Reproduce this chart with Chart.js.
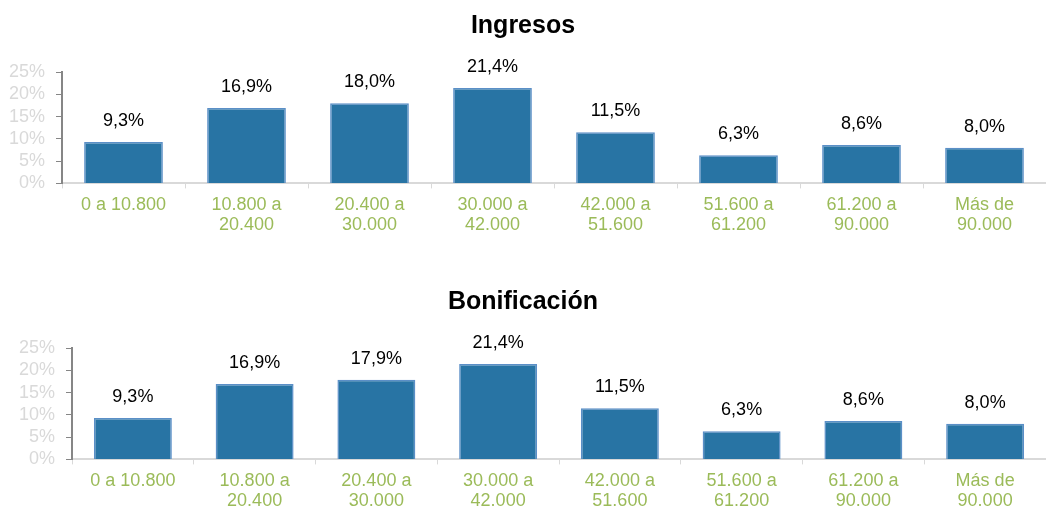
<!DOCTYPE html>
<html>
<head>
<meta charset="utf-8">
<script src="https://cdn.jsdelivr.net/npm/chart.js@4"></script>
<style>
  body { margin: 0; background: #fff; overflow: hidden; }
  .box { position: absolute; left: 0; width: 1046px; height: 256px; }
</style>
</head>
<body>
<div class="box" style="top:0"><canvas id="chart1"></canvas></div>
<div class="box" style="top:276px"><canvas id="chart2"></canvas></div>
<script>
const categories = [['0 a 10.800'], ['10.800 a', '20.400'], ['20.400 a', '30.000'], ['30.000 a', '42.000'],
    ['42.000 a', '51.600'], ['51.600 a', '61.200'], ['61.200 a', '90.000'], ['Más de', '90.000']];
const ingresos = [9.3, 16.9, 18.0, 21.4, 11.5, 6.3, 8.6, 8.0];
const bonificacion = [9.3, 16.9, 17.9, 21.4, 11.5, 6.3, 8.6, 8.0];
const yTicks = [0, 5, 10, 15, 20, 25];

const FONT = '"Liberation Sans", Arial, sans-serif';

// draws the value above each bar, like the original data labels
const barLabels = {
    id: 'barLabels',
    afterDatasetsDraw(chart) {
        const ctx = chart.ctx;
        const meta = chart.getDatasetMeta(0);
        ctx.save();
        ctx.font = '18px ' + FONT;
        ctx.fillStyle = '#000';
        ctx.textAlign = 'center';
        ctx.textBaseline = 'middle';
        meta.data.forEach((bar, i) => {
            const v = chart.data.datasets[0].data[i];
            ctx.fillText(v.toFixed(1).replace('.', ',') + '%', bar.x, bar.y - 21);
        });
        ctx.restore();
    }
};

function createChart(canvasId, title, data, axisWidth) {
    const ctx = document.getElementById(canvasId).getContext('2d');
    return new Chart(ctx, {
        type: 'bar',
        data: {
            labels: categories,
            datasets: [{
                data: data,
                backgroundColor: '#2874A4',
                borderColor: '#5B8FC7',
                borderWidth: 1.5,
                categoryPercentage: 1,
                barPercentage: 0.64
            }]
        },
        options: {
            responsive: true,
            maintainAspectRatio: false,
            animation: false,
            layout: { padding: { left: 0, right: 0, top: 0, bottom: 14 } },
            plugins: {
                legend: { display: false },
                tooltip: { enabled: false },
                title: {
                    display: true,
                    text: title,
                    color: '#000',
                    font: { family: FONT, size: 25, weight: 'bold' },
                    padding: { top: 11, bottom: 31 }
                }
            },
            scales: {
                x: {
                    grid: { offset: true, drawOnChartArea: false, color: '#d9d9d9', tickLength: 5 },
                    border: { color: '#d9d9d9', width: 2 },
                    ticks: {
                        color: '#9BBB59',
                        font: { family: FONT, size: 18, lineHeight: 1.1 },
                        padding: 7,
                        maxRotation: 0,
                        autoSkip: false
                    }
                },
                y: {
                    min: 0,
                    max: 25,
                    afterBuildTicks: axis => { axis.ticks = yTicks.map(v => ({ value: v })); },
                    afterFit: axis => { axis.width = axisWidth; },
                    grid: { drawOnChartArea: false, color: '#868686', tickLength: 6 },
                    border: { color: '#868686', width: 2 },
                    ticks: {
                        color: '#D9D9D9',
                        font: { family: FONT, size: 18 },
                        padding: 11,
                        autoSkip: false,
                        callback: v => v + '%'
                    }
                }
            }
        },
        plugins: [barLabels]
    });
}

createChart('chart1', 'Ingresos', ingresos, 62);
createChart('chart2', 'Bonificación', bonificacion, 72);
</script>
</body>
</html>
